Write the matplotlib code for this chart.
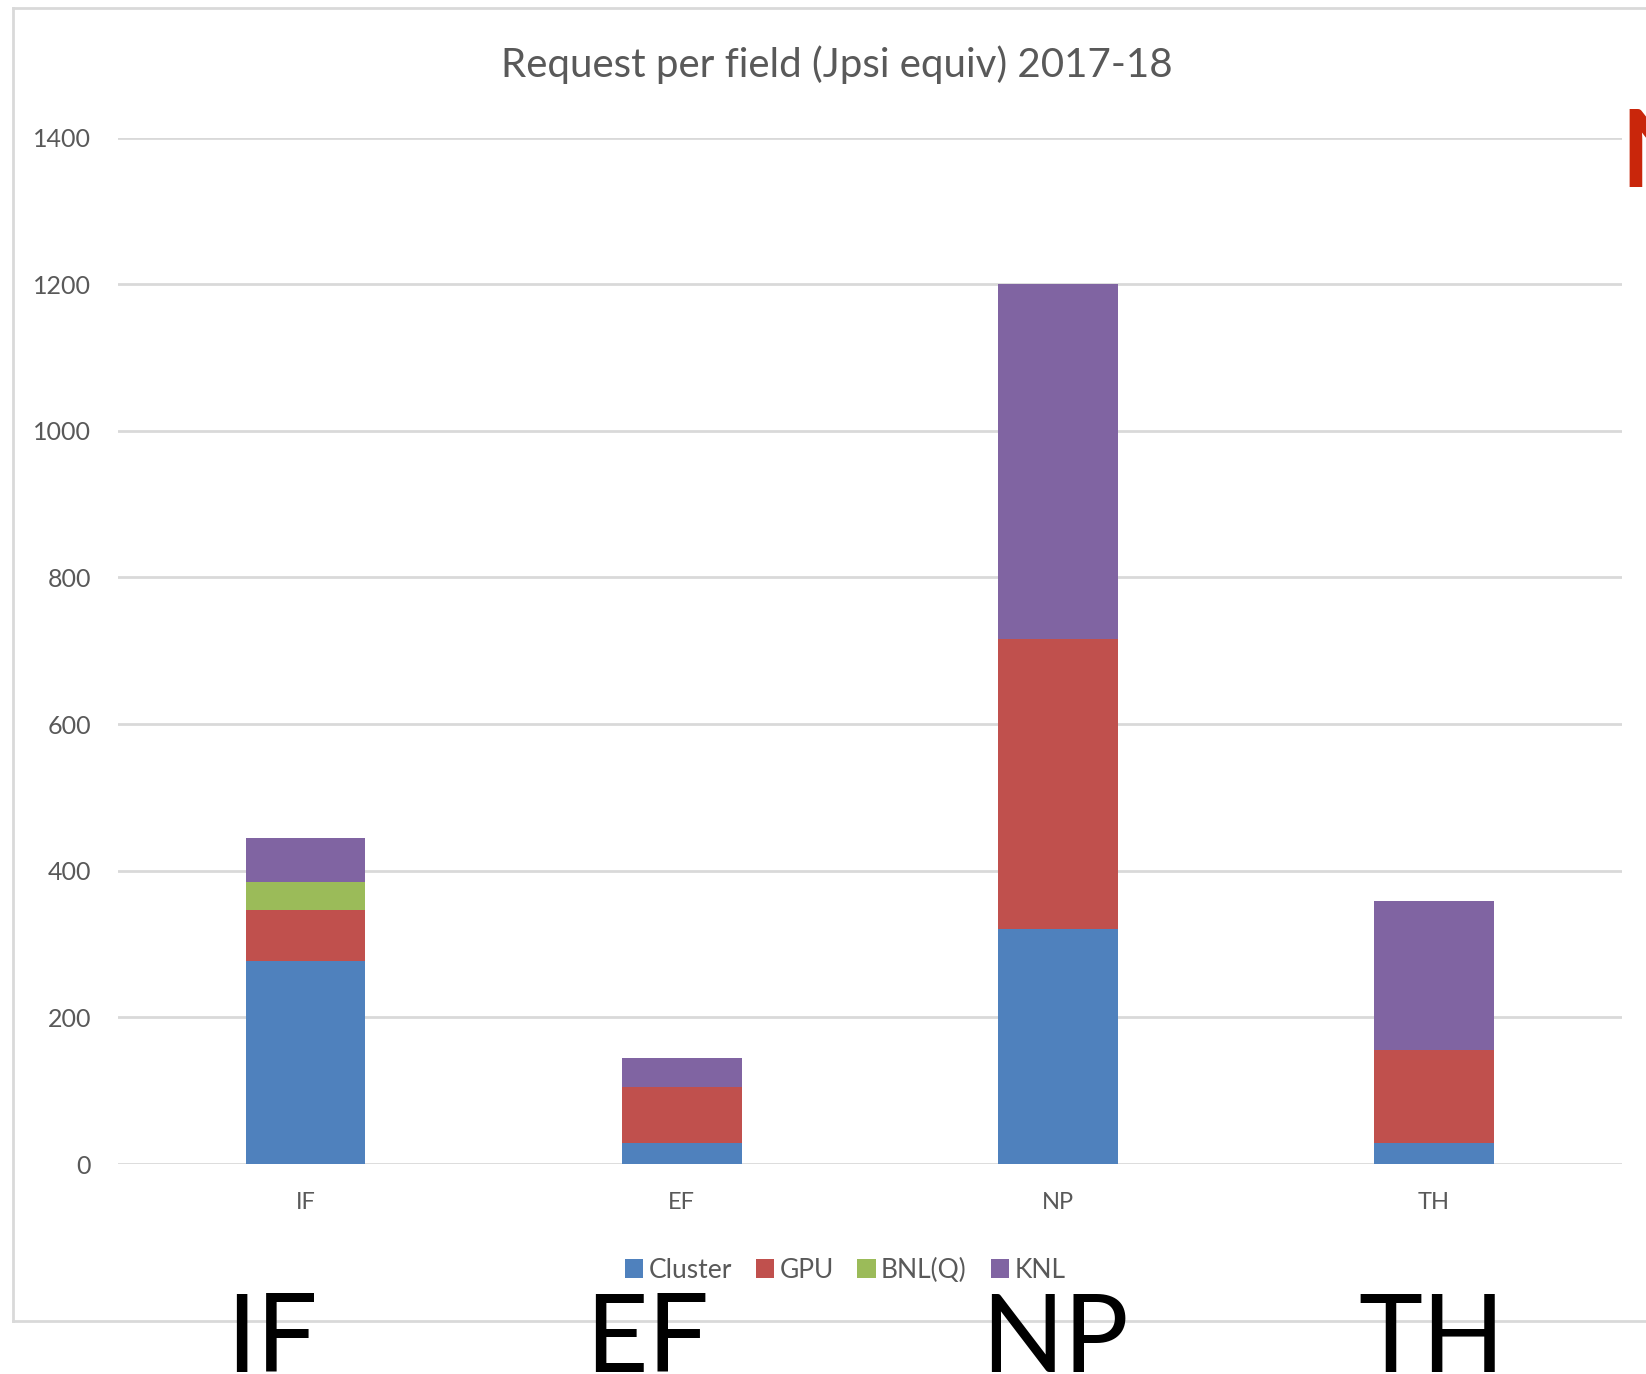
import matplotlib
matplotlib.use("Agg")
import matplotlib.pyplot as plt
from matplotlib.lines import Line2D
from matplotlib.patches import Patch
import numpy as np

# data
fields = ['IF', 'EF', 'NP', 'TH']
series = ['Cluster', 'GPU', 'BNL(Q)', 'KNL']
cluster = [277, 28, 320, 28]
gpu = [69, 77, 396, 128]
bnl = [39, 0, 0, 0]
knl = [60, 39, 484, 203]
colors = ['#4F81BD', '#C0504D', '#9BBB59', '#8064A2']
yticks = [0, 200, 400, 600, 800, 1000, 1200, 1400]

W, H = 1646, 1374
plt.rcParams['font.family'] = ['Lato', 'DejaVu Sans']
txt_gray = '#595959'
grid_gray = '#D9D9D9'

fig = plt.figure(figsize=(W / 100, H / 100), dpi=100)
fig.patch.set_facecolor('white')

# chart frame (right side runs off the picture)
fx0, fy_top, fy_bot = 12.6 / W, 1 - 8.4 / H, 1 - 1320.5 / H
fig.add_artist(Line2D([fx0, fx0], [fy_bot, fy_top], color=grid_gray, lw=2))
fig.add_artist(Line2D([fx0, 1.01], [fy_top, fy_top], color=grid_gray, lw=2))
fig.add_artist(Line2D([fx0, 1.01], [fy_bot, fy_bot], color=grid_gray, lw=2))

ax = fig.add_axes([117.6 / W, 1 - 1164 / H, (1622 - 117.6) / W, (1164 - 137.5) / H])
x = np.arange(len(fields))
bottom = np.zeros(len(fields))
for name, vals, c in zip(series, [cluster, gpu, bnl, knl], colors):
    ax.bar(x, vals, 0.318, bottom=bottom, color=c, label=name, lw=0, zorder=3)
    bottom += np.array(vals)

ax.set_xlim(-0.5, 3.5)
ax.set_ylim(0, 1400)
ax.set_yticks(yticks)
ax.set_xticks(x)
ax.set_xticklabels(fields)
ax.yaxis.grid(True, color=grid_gray, lw=2, zorder=0)
ax.set_axisbelow(True)
for s in ax.spines.values():
    s.set_visible(False)
ax.tick_params(axis='both', length=0, labelcolor=txt_gray)
ax.tick_params(axis='y', pad=19, labelsize=18)
ax.tick_params(axis='x', pad=20, labelsize=17)

fig.text(837 / W, 1 - 65 / H, 'Request per field (Jpsi equiv) 2017-18',
         ha='center', va='center', fontsize=29, color=txt_gray)

handles = [Patch(facecolor=c, edgecolor='none') for c in colors]
fig.legend(handles, series, loc='center', bbox_to_anchor=(845 / W, 1 - 1270 / H),
           ncol=4, frameon=False, fontsize=19, labelcolor=txt_gray,
           handlelength=0.7, handleheight=0.7, handletextpad=0.2, columnspacing=0.9)

# big field labels along the bottom edge
big_x = [272, 647, 1055, 1432]
for name, bx in zip(fields, big_x):
    fig.text(bx / W, 2 / H, name, ha='center', va='baseline', fontsize=78, color='black')

# clipped red letter at the top right
fig.text(1620 / W, 1 - 187 / H, 'N', ha='left', va='baseline', fontsize=77,
         color='#C9260B', fontweight='bold')

fig.savefig('out.png', dpi=100, facecolor='white')
